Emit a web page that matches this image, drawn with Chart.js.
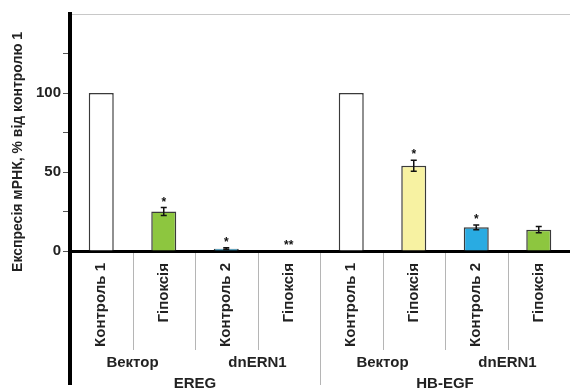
<!DOCTYPE html>
<html>
<head>
<meta charset="utf-8">
<script src="https://cdn.jsdelivr.net/npm/chart.js@4.4.1/dist/chart.umd.min.js"></script>
<style>
  html, body { margin: 0; padding: 0; background: #ffffff; }
  #wrap { width: 570px; height: 392px; }
</style>
</head>
<body>
<div id="wrap"><canvas id="c" width="570" height="392"></canvas></div>
<script>
// ---- data ----
const categories = ['Контроль 1', 'Гіпоксія', 'Контроль 2', 'Гіпоксія', 'Контроль 1', 'Гіпоксія', 'Контроль 2', 'Гіпоксія'];
const constructs = ['Вектор', 'dnERN1', 'Вектор', 'dnERN1'];
const genes = ['EREG', 'HB-EGF'];
const values = [100, 25, 1.5, 0, 100, 54, 15, 13.5];
const errors = [0, 2.5, 0.6, 0, 0, 3.5, 1.5, 2];
const significance = ['', '*', '*', '**', '', '*', '*', ''];
const barColors = ['#ffffff', '#8dc63f', '#29abe2', '#8dc63f', '#ffffff', '#f7f2a2', '#29abe2', '#8dc63f'];
const yTickLabels = [0, 50, 100];
const yTitle = 'Експресія мРНК, % від контролю 1';

const FONT = '"Liberation Sans", Arial, sans-serif';

const decor = {
  id: 'decor',
  afterDatasetsDraw(chart) {
    const { ctx, scales: { y } } = chart;
    const meta = chart.getDatasetMeta(0);
    ctx.save();
    ctx.strokeStyle = '#111';
    ctx.fillStyle = '#111';
    ctx.lineWidth = 1.5;
    meta.data.forEach((bar, i) => {
      const cx = bar.x;
      const err = errors[i];
      const top = y.getPixelForValue(values[i] + err);
      if (err > 0) {
        const bot = y.getPixelForValue(values[i] - err);
        ctx.beginPath();
        ctx.moveTo(cx, top); ctx.lineTo(cx, bot);
        ctx.moveTo(cx - 3, top); ctx.lineTo(cx + 3, top);
        ctx.moveTo(cx - 3, bot); ctx.lineTo(cx + 3, bot);
        ctx.stroke();
      }
      if (significance[i]) {
        ctx.font = 'bold 12px ' + FONT;
        ctx.textAlign = 'center';
        ctx.textBaseline = 'middle';
        ctx.fillText(significance[i], cx, top - 5);
      }
    });
    ctx.restore();
  },
  afterDraw(chart) {
    const { ctx, chartArea, scales: { x } } = chart;
    ctx.save();
    // category separators
    ctx.strokeStyle = '#b5b5b5';
    ctx.lineWidth = 1;
    for (let i = 1; i < categories.length; i++) {
      const xb = Math.round((x.getPixelForValue(i - 1) + x.getPixelForValue(i)) / 2) + 0.5;
      const end = (i % 4 === 0) ? chart.height - 7 : x.bottom - 1;
      ctx.beginPath();
      ctx.moveTo(xb, chartArea.bottom + 2);
      ctx.lineTo(xb, end);
      ctx.stroke();
    }
    // y axis continues below the baseline
    ctx.strokeStyle = '#000';
    ctx.lineWidth = 4;
    ctx.beginPath();
    ctx.moveTo(chartArea.left, chartArea.bottom);
    ctx.lineTo(chartArea.left, chart.height - 7);
    ctx.stroke();
    ctx.restore();
  }
};

new Chart(document.getElementById('c'), {
  type: 'bar',
  data: {
    labels: categories,
    datasets: [{
      data: values,
      backgroundColor: barColors,
      borderColor: '#3a3a3a',
      borderWidth: 1.5,
      barPercentage: 0.8,
      categoryPercentage: 0.5,
      xAxisID: 'x',
      yAxisID: 'y'
    }]
  },
  options: {
    responsive: false,
    animation: false,
    devicePixelRatio: 1,
    layout: { padding: { top: 14, right: 0, bottom: 0, left: 0 } },
    plugins: { legend: { display: false }, tooltip: { enabled: false } },
    scales: {
      y: {
        min: 0,
        max: 150,
        afterFit(scale) { scale.width = 70; },
        border: { display: true, color: '#000', width: 4 },
        grid: {
          drawOnChartArea: true,
          color: (c) => (c.tick && c.tick.value === 150) ? '#c8c8c8' : 'rgba(0,0,0,0)',
          tickColor: (c) => (c.tick && c.tick.value === 150) ? 'rgba(0,0,0,0)' : '#555',
          tickLength: 7,
          lineWidth: 1
        },
        ticks: {
          stepSize: 25,
          padding: 2,
          color: '#222',
          font: { family: FONT, size: 15, weight: 'bold' },
          callback: (v) => yTickLabels.includes(v) ? String(v) : ''
        },
        title: {
          display: true,
          text: yTitle + '          ',
          color: '#222',
          font: { family: FONT, size: 14, weight: 'bold' },
          padding: { top: 10, bottom: 0 }
        }
      },
      x: {
        type: 'category',
        position: 'bottom',
        offset: true,
        afterFit(scale) { scale.height = 100; },
        border: { display: true, color: '#000', width: 3 },
        grid: { display: false, drawTicks: false, tickLength: 0 },
        ticks: {
          autoSkip: false,
          maxRotation: 90,
          minRotation: 90,
          padding: 12,
          color: '#222',
          font: { family: FONT, size: 15, weight: 'bold' }
        }
      },
      x2: {
        type: 'category',
        position: 'bottom',
        labels: constructs,
        offset: true,
        afterFit(scale) { scale.height = 22; },
        border: { display: false },
        grid: { display: false, drawTicks: false, tickLength: 0 },
        ticks: {
          autoSkip: false,
          maxRotation: 0,
          padding: 3,
          color: '#222',
          font: { family: FONT, size: 15, weight: 'bold' }
        }
      },
      x3: {
        type: 'category',
        position: 'bottom',
        labels: genes,
        offset: true,
        afterFit(scale) { scale.height = 19; },
        border: { display: false },
        grid: { display: false, drawTicks: false, tickLength: 0 },
        ticks: {
          autoSkip: false,
          maxRotation: 0,
          padding: 2,
          color: '#222',
          font: { family: FONT, size: 15, weight: 'bold' }
        }
      }
    }
  },
  plugins: [decor]
});
</script>
</body>
</html>
